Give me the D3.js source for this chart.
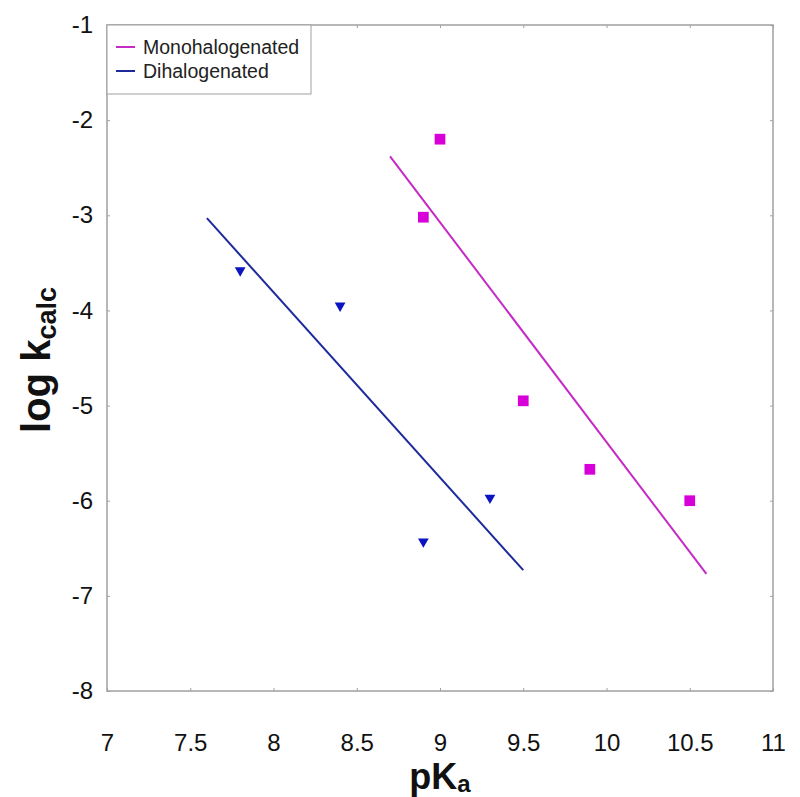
<!DOCTYPE html>
<html><head><meta charset="utf-8">
<script src="https://cdn.jsdelivr.net/npm/d3@7"></script>
<style>body{margin:0;background:#fff;} text{font-family:"Liberation Sans",Arial,sans-serif;}</style>
</head><body><svg id="c" width="800" height="797"></svg>
<script>
const xTicks = [7, 7.5, 8, 8.5, 9, 9.5, 10, 10.5, 11];
const yTicks = [-1, -2, -3, -4, -5, -6, -7, -8];
const monoX = [9.0, 8.9, 9.5, 9.9, 10.5];
const monoY = [-2.2, -3.02, -4.95, -5.67, -6.0];
const diX = [7.8, 8.4, 8.9, 9.3];
const diY = [-3.58, -3.95, -6.43, -5.97];
const monoFitX = [8.7, 10.6];
const monoFitY = [-2.38, -6.77];
const diFitX = [7.6, 9.5];
const diFitY = [-3.03, -6.73];
const seriesNames = ["Monohalogenated", "Dihalogenated"];

const monoLine = "#c42ac4", monoMark = "#d800d8";
const diLine = "#1c2a9c", diMark = "#0a14c0";

const svg = d3.select("#c");
const L = 107, R = 773, T = 25, B = 691;
const x = d3.scaleLinear().domain([7, 11]).range([L, R]);
const y = d3.scaleLinear().domain([-8, -1]).range([B, T]);

// frame
svg.append("rect").attr("x", L).attr("y", T).attr("width", R - L).attr("height", B - T)
  .attr("fill", "none").attr("stroke", "#a0a0a0").attr("stroke-width", 1.5);

const ax = (g, axis) => { g.call(axis); g.select(".domain").remove();
  g.selectAll(".tick line").attr("stroke", "#a0a0a0").attr("stroke-width", 1); };
svg.append("g").attr("transform", `translate(0,${B})`)
  .call(g => ax(g, d3.axisBottom(x).tickValues(xTicks).tickSize(-3).tickPadding(43).tickFormat(d => d3.format("")(d))))
  .selectAll("text").attr("font-size", 24).attr("fill", "#111");
svg.append("g").attr("transform", `translate(0,${T})`)
  .call(g => ax(g, d3.axisTop(x).tickValues(xTicks).tickSize(-3).tickFormat("")));
svg.append("g").attr("transform", `translate(${L},0)`)
  .call(g => ax(g, d3.axisLeft(y).tickValues(yTicks).tickSize(-3).tickPadding(14).tickFormat(d3.format(""))))
  .selectAll("text").attr("font-size", 24).attr("fill", "#111");
svg.append("g").attr("transform", `translate(${R},0)`)
  .call(g => ax(g, d3.axisRight(y).tickValues(yTicks).tickSize(-3).tickFormat("")));
svg.selectAll(".tick text").text(function(){ return this.textContent.replace("\u2212", "-"); });

// fit lines
const line = d3.line().x(d => x(d[0])).y(d => y(d[1]));
svg.append("path").datum(d3.zip(monoFitX, monoFitY)).attr("d", line)
  .attr("stroke", monoLine).attr("stroke-width", 2).attr("fill", "none");
svg.append("path").datum(d3.zip(diFitX, diFitY)).attr("d", line)
  .attr("stroke", diLine).attr("stroke-width", 2).attr("fill", "none");

// markers
const sq = d3.symbol().type(d3.symbolSquare).size(115);
svg.selectAll(".sq").data(d3.zip(monoX, monoY)).join("path")
  .attr("transform", d => `translate(${x(d[0])},${y(d[1])})`).attr("d", sq).attr("fill", monoMark);
const tri = d3.symbol().type(d3.symbolTriangle).size(50);
svg.selectAll(".tri").data(d3.zip(diX, diY)).join("path")
  .attr("transform", d => `translate(${x(d[0])},${y(d[1])}) rotate(180)`).attr("d", tri).attr("fill", diMark);

// legend
svg.append("rect").attr("x", L).attr("y", T).attr("width", 204).attr("height", 69)
  .attr("fill", "#fff").attr("stroke", "#a0a0a0").attr("stroke-width", 1);
[monoLine, diLine].forEach((c, i) => {
  const yy = 47 + i * 24;
  svg.append("line").attr("x1", 116).attr("x2", 135).attr("y1", yy).attr("y2", yy)
    .attr("stroke", c).attr("stroke-width", 2);
  svg.append("text").attr("x", 143).attr("y", yy + 7).attr("font-size", 19.5)
    .attr("fill", "#222").text(seriesNames[i]);
});

// axis titles
svg.append("text").attr("x", 440).attr("y", 789).attr("text-anchor", "middle")
  .attr("font-size", 36).attr("font-weight", "bold").attr("fill", "#111")
  .call(t => { t.append("tspan").text("pK"); t.append("tspan").attr("font-size", 24).attr("dy", 3).text("a"); });
svg.append("text").attr("transform", "translate(50,360) rotate(-90)").attr("text-anchor", "middle")
  .attr("font-size", 40).attr("font-weight", "bold").attr("fill", "#111")
  .call(t => { t.append("tspan").text("log k"); t.append("tspan").attr("font-size", 27).attr("dy", 6).text("calc"); });
</script></body></html>
